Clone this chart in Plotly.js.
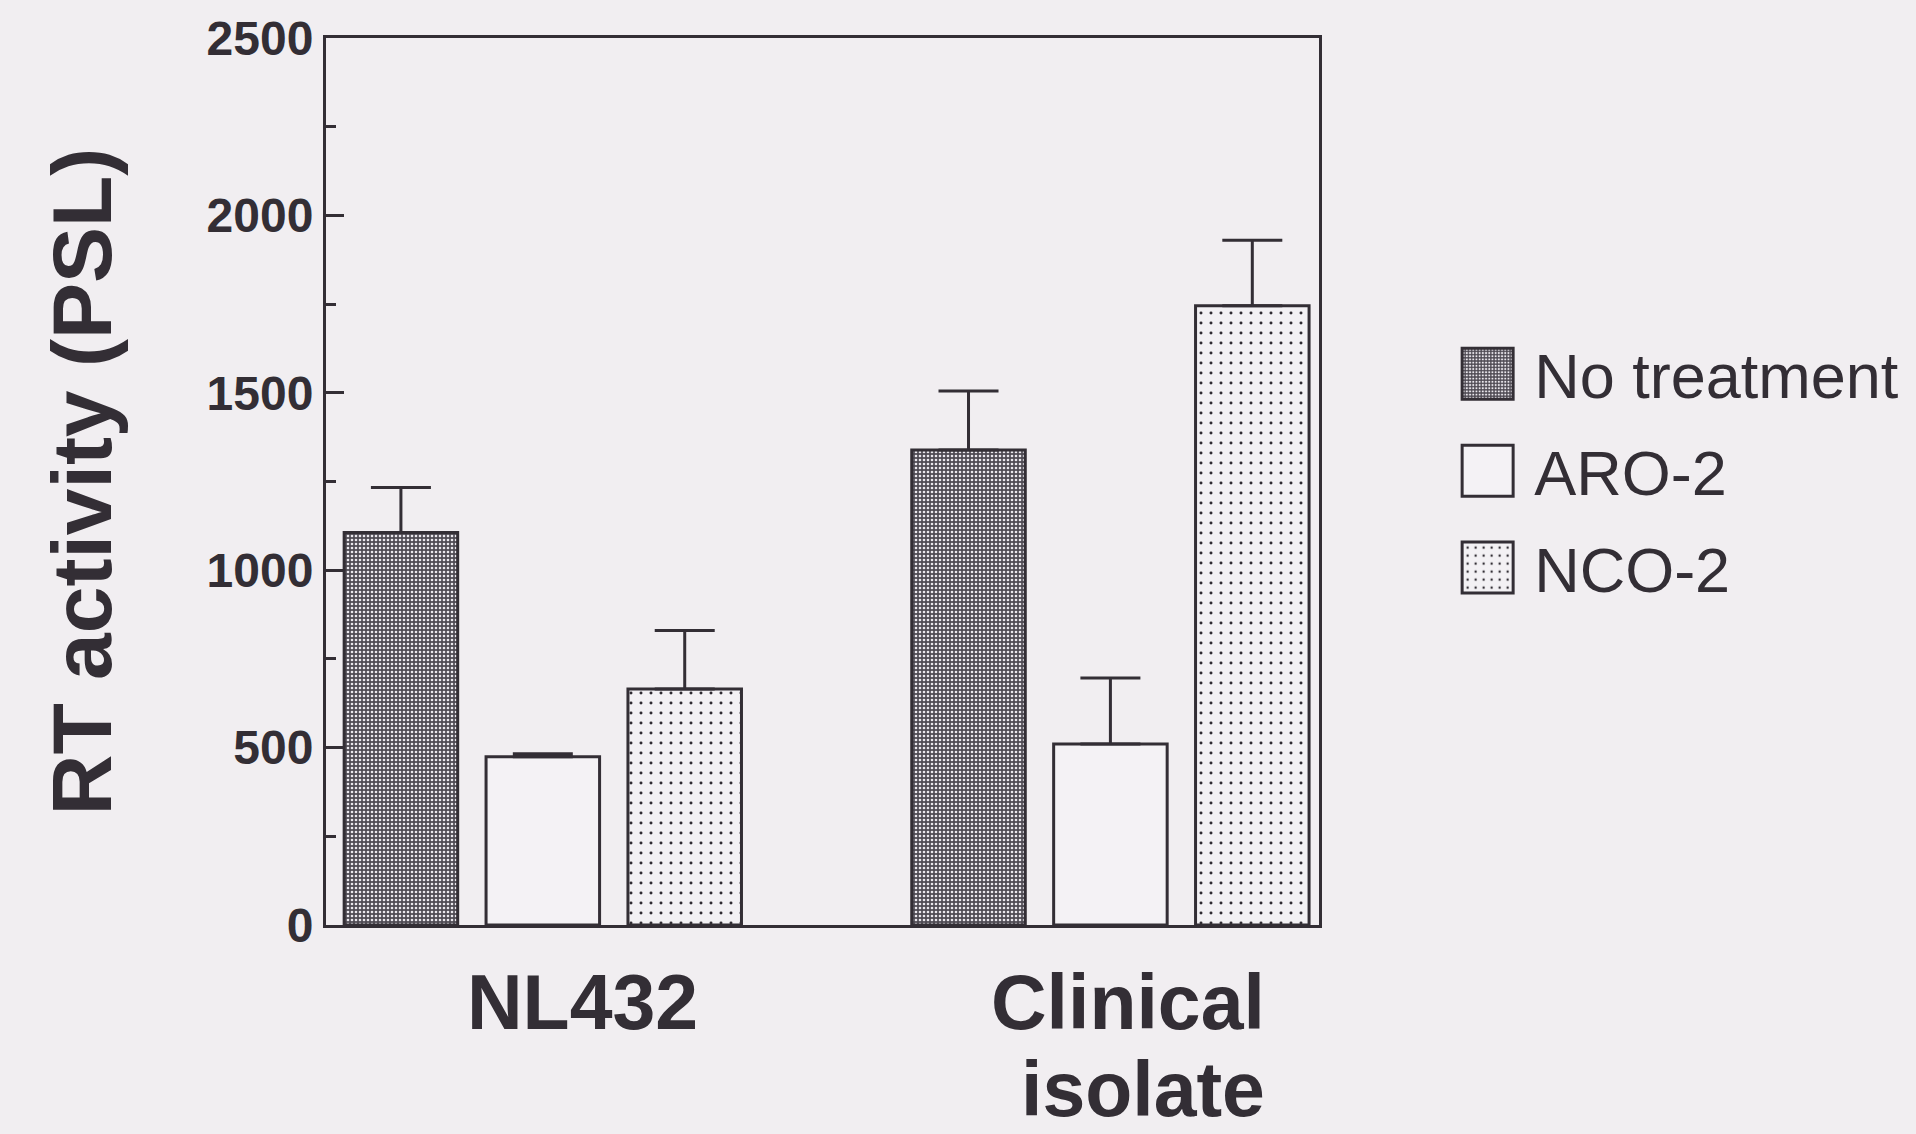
<!DOCTYPE html>
<html>
<head>
<meta charset="utf-8">
<script src="https://cdn.plot.ly/plotly-3.0.1.min.js"></script>
<style>
html, body { margin: 0; padding: 0; background: #f1eef1; }
#chart { width: 1916px; height: 1134px; }
/* enlarge the legend swatches of the real Plotly legend */
.legend .legendpoints path { d: path("M25.5,25.5H-25.5V-25.5H25.5Z"); }
</style>
</head>
<body>
<div id="chart"></div>
<script>
// ---- data ----
const categories = ['NL432', 'Clinical isolate'];
const seriesNames = ['No treatment', 'ARO-2', 'NCO-2'];
const noTreatment = [1106, 1339];
const noTreatmentErr = [127, 166];
const aro2 = [474, 510];
const aro2Err = [9, 186];
const nco2 = [665, 1745];
const nco2Err = [165, 185];
const yTickVals = [0, 500, 1000, 1500, 2000, 2500];
const yTickText = ['0', '500', '1000', '1500', '2000', '2500'];
const yTitle = 'RT activity (PSL)';

// ---- styling ----
const INK = '#332e35';
const BG = '#f1eef1';
const FONT = 'Liberation Sans, Arial, Helvetica, sans-serif';

const values = [noTreatment, aro2, nco2];
const errors = [noTreatmentErr, aro2Err, nco2Err];
const patterns = [
  { shape: '.', bgcolor: '#4f4b54', fgcolor: '#ebe8ee', size: 4, solidity: 0.33, fillmode: 'replace' },
  { shape: '', bgcolor: BG, fgcolor: BG },
  { shape: '.', bgcolor: '#f3f1f4', fgcolor: '#2e2a31', size: 10, solidity: 0.07, fillmode: 'replace' }
];
const fills = ['#4f4b54', '#f4f2f5', '#f3f1f4'];

const traces = seriesNames.map((name, i) => ({
  type: 'bar',
  name: name,
  x: categories,
  y: values[i],
  legendgroup: 'g' + i,
  marker: {
    color: fills[i],
    line: { color: INK, width: 3 },
    pattern: patterns[i]
  },
  error_y: {
    type: 'data',
    symmetric: false,
    array: errors[i],
    arrayminus: errors[i].map(() => 0),
    color: INK,
    thickness: 3,
    width: 30
  },
  hoverinfo: 'skip'
}));

// category labels below the axis, right-aligned, one annotation per line
const CAT_SIZE = 77;
const CAT_LINE = 87;
const annotations = [];
categories.forEach((c) => {
  c.split(' ').forEach((word, li) => {
    annotations.push({
      xref: 'x', yref: 'paper', x: c, y: 0,
      text: word, showarrow: false,
      xanchor: 'right', yanchor: 'top',
      xshift: 156, yshift: -33 - li * CAT_LINE,
      borderpad: 0,
      font: { family: FONT, size: CAT_SIZE, weight: 'bold', color: INK }
    });
  });
});

const layout = {
  width: 1916, height: 1134,
  paper_bgcolor: BG, plot_bgcolor: BG,
  margin: { l: 326, r: 591, t: 38, b: 209 },
  font: { family: FONT, color: INK },
  barmode: 'group',
  bargap: 0.25,
  bargroupgap: 0.2,
  showlegend: true,
  legend: {
    x: 1.123, xanchor: 'left',
    y: 0.512, yanchor: 'middle',
    bgcolor: 'rgba(0,0,0,0)',
    borderwidth: 0,
    itemwidth: 83,
    traceorder: 'grouped',
    tracegroupgap: 12,
    font: { family: FONT, size: 63, color: INK }
  },
  xaxis: {
    type: 'category',
    range: [-0.382, 1.3675],
    showticklabels: false,
    ticks: '',
    showline: true, mirror: true, linewidth: 3, linecolor: INK,
    showgrid: false, zeroline: false, fixedrange: true
  },
  yaxis: {
    range: [0, 2500],
    tickmode: 'array', tickvals: yTickVals, ticktext: yTickText,
    ticks: 'inside', ticklen: 18, tickwidth: 3, tickcolor: INK,
    minor: { dtick: 250, tick0: 0, ticks: 'inside', ticklen: 10, tickwidth: 3, tickcolor: INK, showgrid: false },
    tickfont: { family: FONT, size: 48, weight: 'bold', color: INK },
    showline: true, mirror: true, linewidth: 3, linecolor: INK,
    showgrid: false, zeroline: false, fixedrange: true,
    title: { text: yTitle, standoff: 68, font: { family: FONT, size: 84, weight: 'bold', color: INK } }
  },
  annotations: annotations
};

Plotly.newPlot('chart', traces, layout, { displayModeBar: false, staticPlot: true });
</script>
</body>
</html>
